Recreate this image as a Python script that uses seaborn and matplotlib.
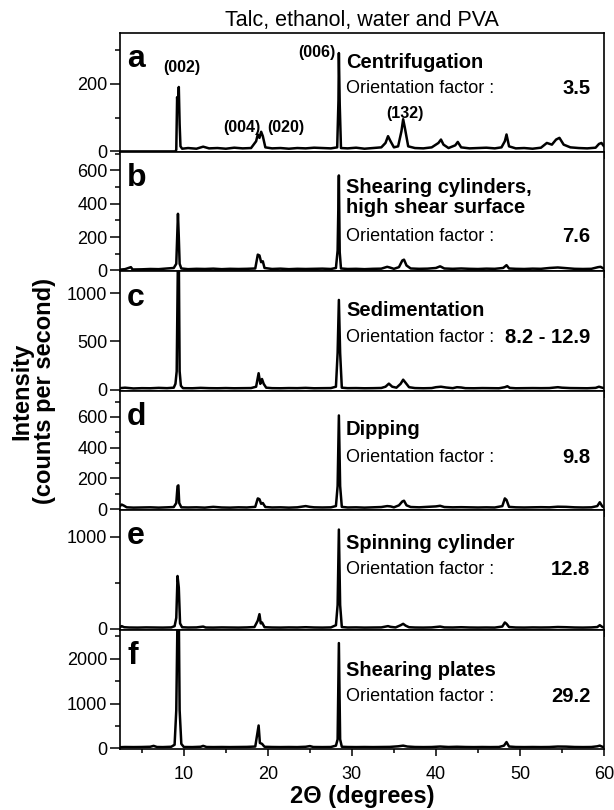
import matplotlib
matplotlib.use("Agg")
import matplotlib.pyplot as plt
import seaborn as sns
import pandas as pd

# ---------------- data ----------------
panel_letters = ["a", "b", "c", "d", "e", "f"]
method_names = ["Centrifugation", "Shearing cylinders,\nhigh shear surface",
                "Sedimentation", "Dipping", "Spinning cylinder", "Shearing plates"]
orientation_factors = ["3.5", "7.6", "8.2 - 12.9", "9.8", "12.8", "29.2"]
title_text = "Talc, ethanol, water and PVA"

x_ticks = [10, 20, 30, 40, 50, 60]
x_minor = [5, 15, 25, 35, 45, 55]

y_limits = [(-2, 350), (-6, 710), (-13, 1225), (-7, 770), (-8, 1290), (-15, 2650)]
y_major = [[0, 200], [0, 200, 400, 600], [0, 500, 1000], [0, 200, 400, 600], [0, 1000], [0, 1000, 2000]]
y_minor = [[100, 300], [100, 300, 500, 700], [], [100, 300, 500, 700], [500], [500, 1500, 2500]]

peak_labels = ["(002)", "(006)", "(004)", "(020)", "(132)"]
peak_label_x = [9.8, 28.0, 16.9, 22.1, 36.3]
peak_label_y = [247, 293, 72, 72, 113]
peak_label_ha = ["center", "right", "center", "center", "center"]

trace_a = [(2.4, 0), (9.0, 0), (9.1, 5), (9.2, 160), (9.3, 120), (9.4, 190), (9.5, 80), (9.6, 15),
           (9.8, 8), (10.5, 10), (11.5, 8), (12.3, 14), (13.0, 9), (14.0, 10), (15.0, 8), (16.0, 11),
           (17.0, 9), (18.0, 10), (18.6, 30), (18.8, 50), (19.0, 40), (19.2, 58), (19.4, 45), (19.7, 12),
           (20.5, 9), (21.5, 10), (22.5, 8), (23.5, 10), (24.5, 9), (25.5, 11), (26.5, 10), (27.5, 9),
           (28.25, 12), (28.4, 150), (28.45, 290), (28.55, 140), (28.7, 10), (29.5, 9), (30.5, 11),
           (31.5, 8), (32.5, 10), (33.5, 12), (34.0, 25), (34.3, 45), (34.6, 30), (35.0, 12), (35.5, 15),
           (35.9, 60), (36.1, 95), (36.3, 70), (36.7, 15), (37.5, 10), (38.5, 9), (39.5, 12), (40.3, 25),
           (40.6, 35), (40.9, 20), (41.5, 10), (42.3, 18), (42.6, 28), (43.0, 12), (44.0, 9), (45.0, 10),
           (46.0, 11), (47.0, 9), (47.8, 12), (48.2, 30), (48.4, 50), (48.7, 15), (49.5, 9), (50.5, 10),
           (51.5, 8), (52.5, 11), (53.2, 25), (53.8, 20), (54.3, 35), (54.7, 40), (55.2, 20), (56.0, 12),
           (57.0, 10), (58.0, 9), (59.0, 11), (59.4, 22), (59.7, 25), (60.0, 15)]

trace_b = [(2.4, 5), (3.0, 8), (3.7, 20), (3.9, 6), (5.0, 7), (6.0, 9), (7.0, 8), (8.0, 12), (8.8, 15),
           (9.1, 40), (9.3, 340), (9.4, 200), (9.5, 40), (9.7, 12), (10.5, 8), (11.5, 10), (12.5, 9),
           (13.5, 11), (14.5, 8), (15.5, 10), (16.5, 9), (17.5, 10), (18.5, 12), (18.8, 95), (19.0, 90),
           (19.2, 50), (19.4, 55), (19.6, 15), (20.5, 9), (21.5, 11), (22.5, 8), (23.5, 10), (24.5, 9),
           (25.5, 10), (26.5, 11), (27.5, 9), (28.1, 15), (28.3, 120), (28.45, 570), (28.55, 110),
           (28.7, 12), (29.5, 9), (30.5, 10), (31.5, 8), (32.5, 10), (33.5, 11), (34.2, 22), (34.5, 18),
           (35.0, 10), (35.6, 20), (36.0, 60), (36.2, 65), (36.5, 30), (37.0, 12), (38.0, 10), (39.0, 11),
           (40.0, 15), (40.5, 25), (41.0, 12), (42.0, 10), (43.0, 12), (44.0, 10), (45.0, 9), (46.0, 11),
           (47.0, 10), (48.0, 15), (48.4, 32), (48.7, 12), (49.5, 10), (50.5, 9), (51.5, 11), (52.5, 10),
           (53.5, 15), (54.5, 18), (55.5, 14), (56.5, 10), (57.5, 9), (58.5, 10), (59.3, 20), (59.6, 22),
           (60.0, 10)]

trace_c = [(2.4, 15), (3.0, 20), (4.0, 12), (5.0, 15), (6.0, 14), (7.0, 18), (8.0, 15), (8.8, 20),
           (9.0, 60), (9.15, 190), (9.3, 1400), (9.4, 1400), (9.5, 190), (9.65, 40), (9.9, 15),
           (11.0, 14), (12.0, 18), (13.0, 15), (14.0, 14), (15.0, 16), (16.0, 14), (17.0, 15), (18.0, 16),
           (18.6, 30), (18.9, 170), (19.1, 60), (19.3, 110), (19.5, 60), (19.8, 20), (20.5, 15),
           (21.5, 14), (22.5, 16), (23.5, 15), (24.5, 18), (25.5, 14), (26.5, 15), (27.5, 16), (28.1, 30),
           (28.3, 380), (28.45, 930), (28.6, 380), (28.8, 20), (29.5, 15), (30.5, 16), (31.5, 14),
           (32.5, 15), (33.5, 17), (34.0, 30), (34.4, 62), (34.8, 30), (35.3, 20), (35.8, 60), (36.1, 103),
           (36.4, 70), (36.8, 25), (37.5, 16), (38.5, 14), (39.5, 16), (40.0, 25), (40.6, 30), (41.2, 22),
           (42.0, 15), (42.5, 25), (43.0, 22), (43.5, 15), (44.5, 14), (45.5, 16), (46.5, 15), (47.5, 14),
           (48.2, 25), (48.5, 35), (48.8, 18), (49.5, 14), (50.5, 15), (51.5, 16), (52.5, 15), (53.5, 16),
           (54.5, 25), (55.0, 20), (56.0, 16), (57.0, 15), (58.0, 14), (59.0, 18), (59.4, 30), (59.7, 22),
           (60.0, 15)]

trace_d = [(2.4, 20), (2.6, 30), (2.9, 22), (3.2, 12), (4.0, 10), (5.0, 11), (6.0, 12), (7.0, 10),
           (8.0, 12), (8.8, 14), (9.1, 40), (9.25, 150), (9.35, 155), (9.45, 40), (9.7, 12), (10.5, 11),
           (11.5, 12), (12.5, 10), (13.5, 15), (14.5, 11), (15.5, 10), (16.5, 12), (17.5, 11), (18.5, 15),
           (18.8, 70), (19.0, 65), (19.2, 35), (19.4, 40), (19.7, 14), (20.5, 11), (21.5, 12), (22.5, 10),
           (23.5, 12), (24.5, 20), (25.0, 15), (25.5, 12), (26.5, 11), (27.5, 12), (28.1, 20), (28.3, 150),
           (28.45, 610), (28.6, 150), (28.8, 15), (29.5, 11), (30.5, 12), (31.5, 10), (32.5, 12),
           (33.5, 14), (34.2, 20), (34.6, 18), (35.0, 12), (35.6, 25), (36.0, 50), (36.2, 55), (36.5, 25),
           (37.0, 14), (38.0, 12), (39.0, 15), (40.0, 18), (40.5, 22), (41.0, 14), (42.0, 12), (43.0, 13),
           (44.0, 12), (45.0, 11), (46.0, 12), (47.0, 11), (47.9, 20), (48.2, 70), (48.4, 60), (48.7, 15),
           (49.5, 12), (50.5, 11), (51.5, 12), (52.5, 13), (53.5, 12), (54.5, 16), (55.5, 15), (56.5, 12),
           (57.5, 11), (58.5, 12), (59.2, 20), (59.5, 45), (59.8, 18), (60.0, 12)]

trace_e = [(2.4, 15), (2.6, 30), (2.9, 18), (3.5, 15), (4.5, 14), (5.5, 16), (6.5, 15), (7.5, 14),
           (8.5, 16), (8.9, 30), (9.1, 120), (9.25, 575), (9.4, 450), (9.55, 60), (9.8, 18), (10.5, 15),
           (11.5, 16), (12.3, 25), (12.6, 15), (13.5, 14), (14.5, 16), (15.5, 15), (16.5, 14), (17.5, 16),
           (18.4, 20), (18.8, 90), (19.0, 160), (19.15, 60), (19.3, 70), (19.6, 18), (20.5, 15), (21.5, 14),
           (22.5, 16), (23.5, 15), (24.5, 18), (25.5, 15), (26.5, 14), (27.5, 16), (28.1, 40), (28.3, 260),
           (28.45, 1080), (28.6, 260), (28.8, 20), (29.5, 15), (30.5, 16), (31.5, 14), (32.5, 15),
           (33.5, 16), (34.3, 30), (34.6, 22), (35.2, 16), (35.8, 40), (36.1, 55), (36.4, 35), (36.8, 18),
           (37.5, 15), (38.5, 14), (39.5, 16), (40.5, 25), (41.0, 16), (42.0, 15), (43.0, 18), (44.0, 15),
           (45.0, 14), (46.0, 15), (47.0, 14), (47.9, 25), (48.2, 70), (48.4, 55), (48.7, 20), (49.5, 15),
           (50.5, 14), (51.5, 16), (52.5, 15), (53.5, 16), (54.5, 20), (55.5, 18), (56.5, 15), (57.5, 14),
           (58.5, 16), (59.2, 20), (59.5, 40), (59.8, 20), (60.0, 15)]

trace_f = [(2.4, 25), (3.0, 30), (4.0, 28), (5.0, 30), (6.0, 35), (6.4, 55), (6.8, 30), (7.5, 28),
           (8.5, 35), (8.9, 80), (9.1, 850), (9.25, 3000), (9.4, 3000), (9.5, 850), (9.7, 100), (10.0, 30),
           (11.0, 28), (12.0, 35), (12.3, 55), (12.7, 30), (13.5, 28), (14.5, 30), (15.5, 28), (16.5, 30),
           (17.5, 32), (18.5, 40), (18.9, 510), (19.05, 120), (19.3, 100), (19.6, 35), (20.5, 30),
           (21.5, 28), (22.5, 30), (23.5, 28), (24.5, 35), (25.0, 50), (25.4, 30), (26.5, 28), (27.5, 30),
           (28.1, 60), (28.3, 200), (28.45, 2350), (28.6, 200), (28.8, 35), (29.5, 30), (30.5, 28),
           (31.5, 30), (32.5, 28), (33.5, 30), (34.5, 32), (35.5, 45), (36.1, 60), (36.6, 40), (37.5, 30),
           (38.5, 28), (39.5, 30), (40.5, 40), (41.5, 30), (42.5, 35), (43.5, 30), (44.5, 28), (45.5, 30),
           (46.5, 28), (47.5, 30), (48.1, 60), (48.4, 140), (48.7, 40), (49.5, 30), (50.5, 28), (51.5, 30),
           (52.5, 28), (53.5, 30), (54.5, 40), (55.5, 38), (56.5, 30), (57.5, 28), (58.5, 30), (59.2, 45),
           (59.5, 60), (59.8, 35), (60.0, 30)]

traces = [trace_a, trace_b, trace_c, trace_d, trace_e, trace_f]

# text placement (axes fractions)
name_y = [0.749, 0.62, 0.671, 0.678, 0.72, 0.658]
factor_y = [0.533, 0.297, 0.443, 0.438, 0.50, 0.436]

# ---------------- build table ----------------
rows = []
for letter, tr in zip(panel_letters, traces):
    for x, y in tr:
        rows.append({"panel": letter, "two_theta": x, "intensity": y})
df = pd.DataFrame(rows)

# ---------------- style ----------------
sns.set_theme(style="ticks")
plt.rcParams["font.family"] = ["Liberation Sans", "DejaVu Sans"]
plt.rcParams["axes.linewidth"] = 1.2
plt.rcParams["text.color"] = "black"
plt.rcParams["axes.labelcolor"] = "black"
plt.rcParams["xtick.color"] = "black"
plt.rcParams["ytick.color"] = "black"
plt.rcParams["axes.edgecolor"] = "black"

fig, axes = plt.subplots(6, 1, sharex=True, figsize=(6.14, 8.10), dpi=100)
fig.subplots_adjust(left=0.1954, right=0.9837, top=0.9596, bottom=0.0753, hspace=0)

for i, ax in enumerate(axes):
    sub = df[df["panel"] == panel_letters[i]]
    sns.lineplot(data=sub, x="two_theta", y="intensity", ax=ax, color="black",
                 linewidth=1.8, estimator=None, sort=False)
    ax.set_xlim(2.4, 60)
    ax.set_ylim(*y_limits[i])
    ax.set_yticks(y_major[i])
    ax.set_yticks(y_minor[i], minor=True)
    ax.set_xticks(x_ticks)
    ax.set_xticks(x_minor, minor=True)
    ax.set_xlabel("")
    ax.set_ylabel("")
    for s in ax.spines.values():
        s.set_visible(True)
        s.set_linewidth(1.2)
        s.set_color("black")
    ax.tick_params(axis="y", which="major", direction="out", length=7, width=1.1,
                   labelsize=13, pad=2, colors="black")
    ax.tick_params(axis="y", which="minor", direction="out", length=3.5, width=1.1,
                   colors="black")
    ax.tick_params(axis="x", which="major", direction="out", length=5, width=1.1,
                   labelsize=13, pad=7, colors="black")
    ax.tick_params(axis="x", which="minor", direction="out", length=3, width=1.1,
                   colors="black")

    ax.text(0.015, 0.715, panel_letters[i], transform=ax.transAxes, fontsize=23,
            fontweight="bold", ha="left", va="baseline", color="black")
    ax.text(0.467, name_y[i], method_names[i], transform=ax.transAxes, fontsize=14.5,
            fontweight="bold", ha="left", va="center", linespacing=1.05, color="black")
    ax.text(0.467, factor_y[i], "Orientation factor :", transform=ax.transAxes,
            fontsize=13, ha="left", va="center", color="black")
    ax.text(0.972, factor_y[i], orientation_factors[i], transform=ax.transAxes,
            fontsize=14.5, fontweight="bold", ha="right", va="center", color="black")

for lbl, px, py, ha in zip(peak_labels, peak_label_x, peak_label_y, peak_label_ha):
    axes[0].text(px, py, lbl, fontsize=11.5, fontweight="bold", ha=ha, va="center",
                 color="black")

axes[0].set_title(title_text, fontsize=15.5, pad=5, color="black")
axes[-1].set_xlabel("2\u0398 (degrees)", fontsize=17, fontweight="bold", labelpad=2,
                    color="black")
fig.text(0.054, 0.517, "Intensity\n(counts per second)", rotation=90, ha="center",
         va="center", fontsize=17, fontweight="bold", linespacing=1.0, color="black")

fig.savefig("out.png", dpi=100, facecolor="white")
